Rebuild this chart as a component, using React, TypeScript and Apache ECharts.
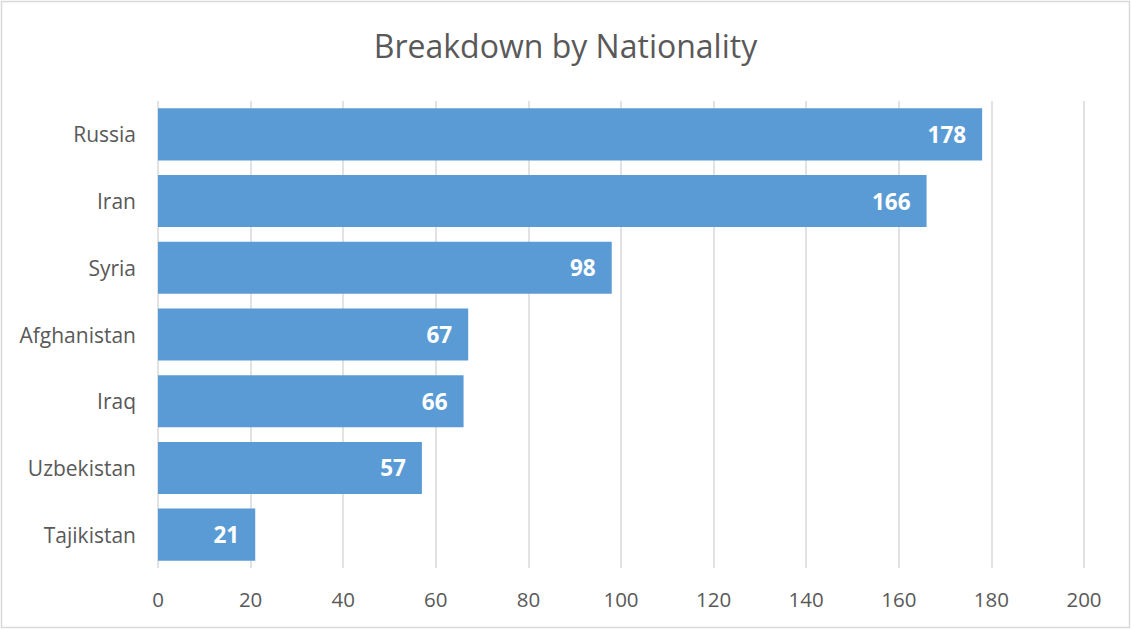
import React, { useEffect, useRef } from "react";
import * as echarts from "echarts";

const categories = ["Tajikistan", "Uzbekistan", "Iraq", "Afghanistan", "Syria", "Iran", "Russia"];
const values = [21, 57, 66, 67, 98, 166, 178];
const xTicks = { min: 0, max: 200, interval: 20 };
const title = "Breakdown by Nationality";

export default function App() {
  const ref = useRef<HTMLDivElement>(null);
  useEffect(() => {
    document.body.style.margin = "0";
    const chart = echarts.init(ref.current!, null, { renderer: "svg" });
    const font = "'Open Sans', 'Noto Sans', sans-serif";
    chart.setOption({
      animation: false,
      backgroundColor: "#ffffff",
      title: {
        text: title,
        left: "center",
        top: 24,
        textStyle: { color: "#595959", fontSize: 32, fontWeight: "normal", fontFamily: font },
      },
      grid: { left: 158, right: 47, top: 101, bottom: 62 },
      xAxis: {
        type: "value",
        min: xTicks.min,
        max: xTicks.max,
        interval: xTicks.interval,
        axisLine: { show: false },
        axisTick: { show: false },
        axisLabel: { color: "#595959", fontSize: 20.5, fontFamily: font, margin: 20 },
        splitLine: { show: true, lineStyle: { color: "#d9d9d9", width: 1.5 } },
      },
      yAxis: {
        type: "category",
        data: categories,
        axisLine: { show: false },
        axisTick: { show: false },
        axisLabel: { color: "#595959", fontSize: 21, fontFamily: font, margin: 22 },
      },
      series: [
        {
          type: "bar",
          data: values,
          barCategoryGap: "22%",
          itemStyle: { color: "#5B9BD5" },
          label: {
            show: true,
            position: "insideRight",
            distance: 16,
            color: "#ffffff",
            fontSize: 22.5,
            fontWeight: "bold",
            fontFamily: font,
          },
        },
      ],
      graphic: [
        {
          type: "rect",
          shape: { x: 1.5, y: 1.5, width: 1128, height: 626 },
          style: { fill: "none", stroke: "#d9d9d9", lineWidth: 1.5 },
          silent: true,
        },
      ],
    });
    return () => chart.dispose();
  }, []);
  return <div ref={ref} style={{ width: 1131, height: 630 }} />;
}
